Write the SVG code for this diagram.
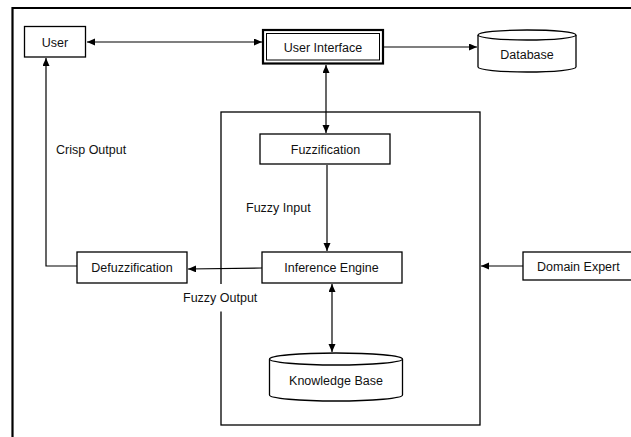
<svg xmlns="http://www.w3.org/2000/svg" width="631" height="437" viewBox="0 0 631 437">
<defs>
<marker id="ah" markerUnits="userSpaceOnUse" markerWidth="9" markerHeight="8" refX="8" refY="3.5" orient="auto-start-reverse">
<path d="M0,0 L8,3.5 L0,7 z" fill="#000"/>
</marker>
<style>
.box{fill:#fff;stroke:#000;stroke-width:1.3}
.t{font-family:"Liberation Sans",Arial,sans-serif;font-size:12.5px;fill:#111}
.m{text-anchor:middle}
.c{fill:none;stroke:#000;stroke-width:1.2}
</style>
</defs>
<rect width="631" height="437" fill="#fff"/>
<g id="frame">
<path d="M12.5,437 V8 H631" fill="none" stroke="#000" stroke-width="2.2"/>
</g>
<g id="container">
<rect x="221" y="112" width="259" height="313" fill="none" stroke="#000" stroke-width="1.3"/>
</g>
<g id="connectors">
<line class="c" x1="87" y1="42" x2="262" y2="42" marker-start="url(#ah)" marker-end="url(#ah)"/>
<line class="c" x1="384" y1="47" x2="477" y2="47" marker-end="url(#ah)"/>
<line class="c" x1="326" y1="65" x2="326" y2="133" marker-start="url(#ah)" marker-end="url(#ah)"/>
<line class="c" x1="327" y1="165" x2="327" y2="251" marker-end="url(#ah)"/>
<line class="c" x1="262" y1="268" x2="188" y2="269" marker-end="url(#ah)"/>
<line class="c" x1="332" y1="284" x2="332" y2="352" marker-start="url(#ah)" marker-end="url(#ah)"/>
<polyline class="c" points="77,266 46,266 46,58" marker-end="url(#ah)"/>
<line class="c" x1="523" y1="266" x2="481" y2="266" marker-end="url(#ah)"/>
</g>
<g id="user">
<rect class="box" x="24.5" y="26.5" width="61" height="30.5"/>
<text class="t m" x="55" y="46.5">User</text>
</g>
<g id="user-interface">
<rect x="263" y="30" width="120" height="33.5" fill="#fff" stroke="#000" stroke-width="2.2"/>
<rect x="266.5" y="33.5" width="113" height="26.5" fill="none" stroke="#000" stroke-width="1"/>
<text class="t m" x="323" y="51.5">User Interface</text>
</g>
<g id="database">
<path d="M478,35 V67 A49,5 0 0 0 576,67 V35" fill="#fff" stroke="#000" stroke-width="1.3"/>
<ellipse cx="527" cy="35" rx="49" ry="5" fill="#fff" stroke="#000" stroke-width="1.3"/>
<text class="t m" x="527" y="59">Database</text>
</g>
<g id="fuzzification">
<rect class="box" x="260" y="134" width="130" height="30"/>
<text class="t m" x="325.5" y="153.5">Fuzzification</text>
</g>
<g id="inference-engine">
<rect class="box" x="262" y="252" width="140" height="31"/>
<text class="t m" x="331.5" y="272">Inference Engine</text>
</g>
<g id="defuzzification">
<rect class="box" x="77" y="252" width="110" height="31"/>
<text class="t m" x="132" y="272">Defuzzification</text>
</g>
<g id="domain-expert">
<rect class="box" x="523" y="252" width="120" height="28"/>
<text class="t" x="537" y="270.5">Domain Expert</text>
</g>
<g id="knowledge-base">
<path d="M269.5,359 V395 A66.5,6 0 0 0 402.5,395 V359" fill="#fff" stroke="#000" stroke-width="1.3"/>
<ellipse cx="336" cy="359" rx="66.5" ry="6" fill="#fff" stroke="#000" stroke-width="1.3"/>
<text class="t m" x="336" y="385">Knowledge Base</text>
</g>
<g id="labels">
<text class="t" x="56" y="154">Crisp Output</text>
<text class="t" x="246" y="212">Fuzzy Input</text>
<rect x="180" y="284" width="80" height="27.5" fill="#fff"/>
<text class="t" x="183" y="302">Fuzzy Output</text>
</g>
</svg>
